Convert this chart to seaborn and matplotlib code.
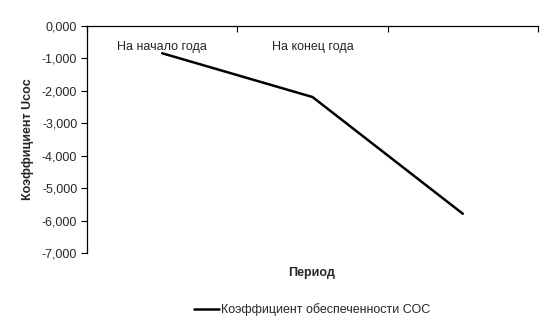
import matplotlib
matplotlib.use("Agg")
import matplotlib.pyplot as plt
import matplotlib.ticker as mticker
import seaborn as sns
import pandas as pd

categories = ["На начало года", "На конец года", ""]
values = [-0.84, -2.19, -5.79]
series_name = "Коэффициент обеспеченности СОС"
y_ticks = [0, -1, -2, -3, -4, -5, -6, -7]

sns.set_theme(style="white")
plt.rcParams['font.family'] = ['Liberation Sans', 'DejaVu Sans']

df = pd.DataFrame({"pos": list(range(len(categories))), "val": values, "s": series_name})

fig = plt.figure(figsize=(5.54, 3.29), dpi=100)
ax = fig.add_axes([87/554, 1-253/329, (538-87)/554, (253-26)/329])

sns.lineplot(data=df, x="pos", y="val", hue="s", palette=["black"], linewidth=1.8, ax=ax, legend=False)

ax.set_xlim(-0.5, len(categories) - 0.5)
ax.set_ylim(-7, 0)
ax.set_yticks(y_ticks)
ax.yaxis.set_major_formatter(mticker.FuncFormatter(lambda v, p: f"{v:.3f}".replace('.', ',')))
ax.tick_params(axis='y', direction='out', length=4, width=0.8, color='black', labelsize=9, pad=3, left=True)

ax.set_xticks(list(range(len(categories))))
ax.set_xticklabels(categories)
ax.set_xticks([i - 0.5 for i in range(len(categories) + 1)], minor=True)
ax.xaxis.set_ticks_position('top')
ax.tick_params(axis='x', which='major', length=0, labeltop=True, labelbottom=False, labelsize=9, pad=-19.5)
ax.tick_params(axis='x', which='minor', direction='in', length=4, width=0.8, color='black', top=True, bottom=False)

for s in ['bottom', 'right']:
    ax.spines[s].set_visible(False)
for s in ['top', 'left']:
    ax.spines[s].set_visible(True)
    ax.spines[s].set_color('black')
    ax.spines[s].set_linewidth(0.9)

ax.set_xlabel("")
ax.set_ylabel("Коэффициент Ucoc", fontsize=9, fontweight='bold', labelpad=6)
fig.text(312/554, 1-273/329, "Период", fontsize=9, fontweight='bold', ha='center', va='center')

from matplotlib.lines import Line2D
h = [Line2D([0], [0], color='black', linewidth=1.8)]
fig.legend(h, [series_name], loc='center', bbox_to_anchor=(312/554, 1-310/329), frameon=False,
           fontsize=9, handlelength=2.0, handletextpad=0.2)

fig.savefig("out.png", dpi=100)
